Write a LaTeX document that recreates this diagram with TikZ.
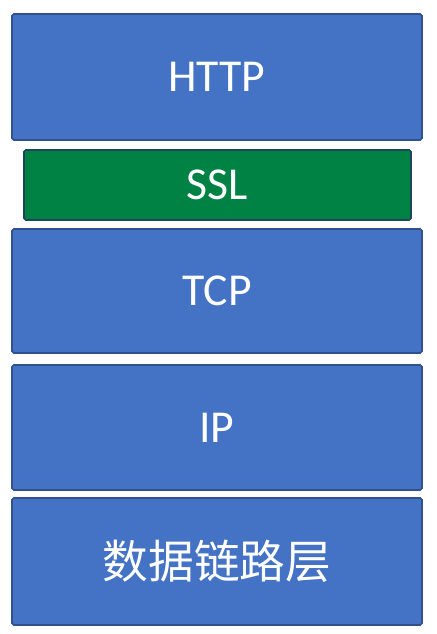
\documentclass[tikz,border=0pt]{standalone}
\usepackage{fontspec}
\setmainfont{Carlito}
\newfontfamily\cjk{Noto Sans CJK SC}
\usepackage{xcolor}
\usepackage{tikz}
\definecolor{layerblue}{RGB}{68,114,196}
\definecolor{layeredge}{RGB}{47,82,143}
\definecolor{sslgreen}{RGB}{0,130,68}
\definecolor{ssledge}{RGB}{30,70,90}

\begin{document}
\begin{tikzpicture}[
  layer/.style={draw=layeredge, fill=layerblue, line width=0.9pt, rounded corners=1pt,
                minimum width=8.2cm, minimum height=2.5cm, align=center,
                text=white, font=\fontsize{26}{30}\selectfont, inner sep=0pt},
  sec/.style={layer, draw=ssledge, fill=sslgreen, minimum width=7.74cm, minimum height=1.4cm}
]
  \useasboundingbox (0,0) rectangle (8.72,12.68);
  \node[layer, minimum height=2.52cm] (http) at (4.34,11.14) {HTTP};
  \node[sec] (ssl) at (4.35,8.98) {SSL};
  \node[layer, minimum height=2.48cm] (tcp) at (4.34,6.86) {TCP};
  \node[layer] (ip) at (4.34,4.13) {IP};
  \node[layer, minimum height=2.54cm, font=\cjk\fontsize{26}{30}\selectfont] (link) at (4.34,1.45) {数据链路层};
\end{tikzpicture}
\end{document}
